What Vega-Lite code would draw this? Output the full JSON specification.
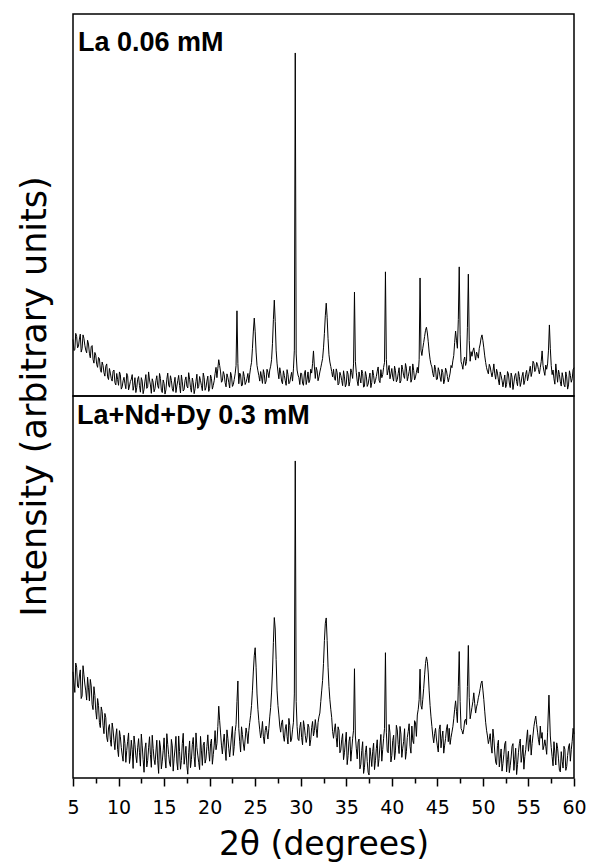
{
"$schema": "https://vega.github.io/schema/vega-lite/v6.json",
"background": "white",
"padding": {"left": 16, "top": 13, "right": 4, "bottom": 0},
"bounds": "flush",
"spacing": 0,
"config": {"view": {"stroke": "black", "strokeWidth": 1.5}, "font": "DejaVu Sans"},
"datasets": {
"top": [
{"x":5.0,"y":14.8},{"x":5.2,"y":12.1},{"x":5.4,"y":15.6},{"x":5.6,"y":13.0},{"x":5.8,"y":16.2},{"x":6.0,"y":12.4},{"x":6.2,"y":15.1},{"x":6.4,"y":12.0},{"x":6.6,"y":14.6},{"x":6.8,"y":11.2},{"x":7.0,"y":12.9},{"x":7.2,"y":9.6},{"x":7.4,"y":11.4},{"x":7.6,"y":8.3},{"x":7.8,"y":10.1},{"x":8.0,"y":7.0},{"x":8.2,"y":8.9},{"x":8.4,"y":6.1},{"x":8.6,"y":7.8},{"x":8.8,"y":5.0},{"x":9.0,"y":7.2},{"x":9.2,"y":4.6},{"x":9.4,"y":6.5},{"x":9.6,"y":3.5},{"x":9.8,"y":5.9},{"x":10.0,"y":2.8},{"x":10.2,"y":5.6},{"x":10.4,"y":2.4},{"x":10.6,"y":4.9},{"x":10.8,"y":1.9},{"x":11.0,"y":5.3},{"x":11.2,"y":2.6},{"x":11.4,"y":4.4},{"x":11.6,"y":1.5},{"x":11.8,"y":4.8},{"x":12.0,"y":2.2},
{"x":12.2,"y":5.1},{"x":12.4,"y":1.0},{"x":12.6,"y":3.9},{"x":12.8,"y":1.8},{"x":13.0,"y":5.6},{"x":13.2,"y":2.4},{"x":13.4,"y":4.2},{"x":13.6,"y":0.7},{"x":13.8,"y":3.6},{"x":14.0,"y":1.9},{"x":14.2,"y":5.3},{"x":14.4,"y":2.0},{"x":14.6,"y":4.6},{"x":14.8,"y":0.9},{"x":15.0,"y":3.3},{"x":15.2,"y":1.6},{"x":15.4,"y":6.0},{"x":15.6,"y":2.3},{"x":15.8,"y":4.1},{"x":16.0,"y":1.2},{"x":16.2,"y":4.9},{"x":16.4,"y":2.6},{"x":16.6,"y":5.4},{"x":16.8,"y":0.8},{"x":17.0,"y":3.7},{"x":17.2,"y":1.7},{"x":17.4,"y":5.0},{"x":17.6,"y":2.1},{"x":17.8,"y":4.4},{"x":18.0,"y":1.0},{"x":18.2,"y":3.5},{"x":18.4,"y":1.9},{"x":18.6,"y":5.7},{"x":18.8,"y":2.5},{"x":19.0,"y":4.0},{"x":19.2,"y":1.4},{"x":19.4,"y":4.8},{"x":19.6,"y":2.2},{"x":19.8,"y":5.2},{"x":20.0,"y":2.0},{"x":20.2,"y":4.6},{"x":20.4,"y":2.8},
{"x":20.6,"y":5.9},{"x":20.8,"y":4.8},{"x":21.0,"y":9.5},{"x":21.2,"y":6.3},{"x":21.4,"y":4.0},{"x":21.6,"y":5.6},{"x":21.8,"y":2.4},{"x":22.0,"y":4.9},{"x":22.2,"y":2.1},{"x":22.4,"y":5.3},{"x":22.6,"y":3.0},{"x":22.8,"y":5.8},{"x":22.9,"y":8.0},{"x":23.0,"y":22.3},{"x":23.1,"y":8.5},{"x":23.2,"y":3.2},{"x":23.4,"y":5.5},{"x":23.6,"y":2.9},{"x":23.8,"y":5.1},{"x":24.0,"y":3.6},{"x":24.2,"y":5.9},
{"x":24.4,"y":5.7},{"x":24.6,"y":8.8},{"x":24.7,"y":12.5},{"x":24.8,"y":17.0},{"x":24.9,"y":20.4},{"x":25.0,"y":16.8},{"x":25.1,"y":11.5},{"x":25.2,"y":8.0},{"x":25.4,"y":5.4},{"x":25.6,"y":6.4},{"x":25.8,"y":3.3},{"x":26.0,"y":5.7},{"x":26.2,"y":3.9},{"x":26.4,"y":6.2},{"x":26.6,"y":6.8},{"x":26.8,"y":9.5},{"x":26.9,"y":13.8},{"x":27.0,"y":20.0},{"x":27.1,"y":25.1},{"x":27.2,"y":19.5},{"x":27.3,"y":12.0},{"x":27.4,"y":8.6},{"x":27.6,"y":4.5},{"x":27.8,"y":6.0},{"x":28.0,"y":3.2},{"x":28.2,"y":5.4},{"x":28.4,"y":2.8},{"x":28.6,"y":5.6},{"x":28.8,"y":3.6},{"x":29.0,"y":6.2},{"x":29.2,"y":7.1},{"x":29.3,"y":12.0},{"x":29.4,"y":89.8},{"x":29.5,"y":11.0},{"x":29.6,"y":6.8},{"x":29.8,"y":4.8},{"x":30.0,"y":6.0},{"x":30.2,"y":3.4},{"x":30.4,"y":5.8},{"x":30.6,"y":3.0},{"x":30.8,"y":6.3},{"x":31.0,"y":4.2},{"x":31.2,"y":6.0},{"x":31.3,"y":8.5},{"x":31.4,"y":11.8},{"x":31.5,"y":7.6},{"x":31.6,"y":4.6},{"x":31.8,"y":6.6},{"x":32.0,"y":5.0},{"x":32.2,"y":7.4},{"x":32.4,"y":9.8},{"x":32.5,"y":12.6},{"x":32.6,"y":16.4},{"x":32.7,"y":21.0},{"x":32.8,"y":24.3},{"x":32.9,"y":20.5},{"x":33.0,"y":15.0},{"x":33.1,"y":10.8},{"x":33.2,"y":8.9},{"x":33.4,"y":6.4},{"x":33.6,"y":7.0},{"x":33.8,"y":4.1},{"x":34.0,"y":6.1},{"x":34.2,"y":3.3},{"x":34.4,"y":5.4},{"x":34.6,"y":2.7},{"x":34.8,"y":5.0},{"x":35.0,"y":3.1},{"x":35.2,"y":5.7},{"x":35.4,"y":3.8},{"x":35.6,"y":6.1},{"x":35.8,"y":8.4},{"x":35.9,"y":27.2},{"x":36.0,"y":9.0},{"x":36.2,"y":3.9},{"x":36.4,"y":6.3},{"x":36.6,"y":3.4},{"x":36.8,"y":5.9},{"x":37.0,"y":2.6},{"x":37.2,"y":5.2},{"x":37.4,"y":3.1},{"x":37.6,"y":6.0},{"x":37.8,"y":3.5},{"x":38.0,"y":5.4},{"x":38.2,"y":4.0},{"x":38.4,"y":6.5},{"x":38.6,"y":4.1},{"x":38.8,"y":6.9},{"x":39.0,"y":5.6},{"x":39.2,"y":8.8},{"x":39.3,"y":32.5},{"x":39.4,"y":9.6},{"x":39.6,"y":6.7},{"x":39.8,"y":4.5},{"x":40.0,"y":7.2},{"x":40.2,"y":3.9},{"x":40.4,"y":6.6},{"x":40.6,"y":4.3},{"x":40.8,"y":7.4},{"x":41.0,"y":4.0},{"x":41.2,"y":6.9},{"x":41.4,"y":4.6},{"x":41.6,"y":7.3},{"x":41.8,"y":5.1},{"x":42.0,"y":7.8},{"x":42.2,"y":4.4},{"x":42.4,"y":6.7},{"x":42.6,"y":5.0},{"x":42.8,"y":7.5},{"x":43.0,"y":9.5},{"x":43.1,"y":30.9},{"x":43.2,"y":12.0},{"x":43.4,"y":12.5},{"x":43.6,"y":15.6},{"x":43.8,"y":18.0},{"x":44.0,"y":14.2},{"x":44.2,"y":9.6},{"x":44.4,"y":7.6},{"x":44.6,"y":5.0},{"x":44.8,"y":7.0},{"x":45.0,"y":4.4},{"x":45.2,"y":6.5},{"x":45.4,"y":3.8},{"x":45.6,"y":6.1},{"x":45.8,"y":4.2},{"x":46.0,"y":6.6},{"x":46.2,"y":3.7},{"x":46.4,"y":6.0},{"x":46.6,"y":7.4},{"x":46.8,"y":10.6},{"x":47.0,"y":17.0},{"x":47.2,"y":12.5},{"x":47.3,"y":20.0},{"x":47.4,"y":33.8},{"x":47.5,"y":16.0},{"x":47.6,"y":9.0},{"x":47.8,"y":7.0},{"x":48.0,"y":10.2},{"x":48.2,"y":9.0},{"x":48.3,"y":18.0},{"x":48.4,"y":31.9},{"x":48.5,"y":14.5},{"x":48.6,"y":9.1},{"x":48.8,"y":10.4},{"x":49.0,"y":12.6},{"x":49.1,"y":11.0},{"x":49.2,"y":9.4},{"x":49.4,"y":10.8},{"x":49.6,"y":12.5},{"x":49.8,"y":15.2},{"x":49.9,"y":16.0},{"x":50.0,"y":14.5},{"x":50.2,"y":10.5},{"x":50.4,"y":7.4},{"x":50.6,"y":5.8},{"x":50.8,"y":7.6},{"x":51.0,"y":5.0},{"x":51.2,"y":8.4},{"x":51.4,"y":4.4},{"x":51.6,"y":6.0},{"x":51.8,"y":2.9},{"x":52.0,"y":5.3},{"x":52.2,"y":2.4},{"x":52.4,"y":5.5},{"x":52.6,"y":3.0},{"x":52.8,"y":5.8},{"x":53.0,"y":2.2},{"x":53.2,"y":4.9},{"x":53.4,"y":3.4},{"x":53.6,"y":5.9},{"x":53.8,"y":2.7},{"x":54.0,"y":5.1},{"x":54.2,"y":3.6},{"x":54.4,"y":6.2},{"x":54.6,"y":4.0},{"x":54.8,"y":6.7},{"x":55.0,"y":5.2},{"x":55.2,"y":7.8},{"x":55.4,"y":6.3},{"x":55.6,"y":8.6},{"x":55.8,"y":7.0},{"x":56.0,"y":8.2},{"x":56.2,"y":5.8},{"x":56.4,"y":9.0},{"x":56.5,"y":11.8},{"x":56.6,"y":8.0},{"x":56.8,"y":5.4},{"x":57.0,"y":7.0},{"x":57.2,"y":12.0},{"x":57.3,"y":18.6},{"x":57.4,"y":12.5},{"x":57.6,"y":5.6},{"x":57.8,"y":4.5},{"x":58.0,"y":8.4},{"x":58.2,"y":3.6},{"x":58.4,"y":5.6},{"x":58.6,"y":2.6},{"x":58.8,"y":4.8},{"x":59.0,"y":2.4},{"x":59.2,"y":5.0},{"x":59.4,"y":2.9},{"x":59.6,"y":5.4},{"x":59.8,"y":4.5},{"x":60.0,"y":7.4},
{"x":5.1,"y":11.9},{"x":5.3,"y":16.4},{"x":5.5,"y":12.6},{"x":5.7,"y":14.9},{"x":5.9,"y":11.5},{"x":6.1,"y":16.0},{"x":6.3,"y":13.3},{"x":6.5,"y":11.3},{"x":6.7,"y":13.6},{"x":6.9,"y":10.0},{"x":7.1,"y":13.2},{"x":7.3,"y":8.6},{"x":7.5,"y":10.7},{"x":7.7,"y":7.5},{"x":7.9,"y":9.8},{"x":8.1,"y":6.2},{"x":8.3,"y":8.0},{"x":8.5,"y":5.2},{"x":8.7,"y":8.4},{"x":8.9,"y":4.3},{"x":9.1,"y":6.0},{"x":9.3,"y":3.9},{"x":9.5,"y":6.8},{"x":9.7,"y":2.9},{"x":9.9,"y":4.3},{"x":10.1,"y":6.3},{"x":10.3,"y":1.8},{"x":10.5,"y":4.0},{"x":10.7,"y":3.2},{"x":10.9,"y":5.9},{"x":11.1,"y":1.6},{"x":11.3,"y":3.8},{"x":11.5,"y":5.6},{"x":11.7,"y":2.7},{"x":11.9,"y":0.9},{"x":12.1,"y":4.4},
{"x":12.3,"y":2.7},{"x":12.5,"y":4.8},{"x":12.7,"y":0.6},{"x":12.9,"y":3.9},{"x":13.1,"y":2.0},{"x":13.3,"y":6.3},{"x":13.5,"y":2.9},{"x":13.7,"y":4.5},{"x":13.9,"y":1.1},{"x":14.1,"y":4.0},{"x":14.3,"y":2.7},{"x":14.5,"y":5.9},{"x":14.7,"y":1.5},{"x":14.9,"y":4.2},{"x":15.1,"y":0.5},{"x":15.3,"y":4.4},{"x":15.5,"y":2.9},{"x":15.7,"y":5.3},{"x":15.9,"y":1.9},{"x":16.1,"y":3.4},{"x":16.3,"y":0.9},{"x":16.5,"y":4.0},{"x":16.7,"y":2.8},{"x":16.9,"y":5.5},{"x":17.1,"y":1.3},{"x":17.3,"y":4.1},{"x":17.5,"y":2.6},{"x":17.7,"y":6.1},{"x":17.9,"y":2.2},{"x":18.1,"y":4.7},{"x":18.3,"y":0.6},{"x":18.5,"y":3.8},{"x":18.7,"y":2.0},{"x":18.9,"y":5.1},{"x":19.1,"y":2.7},{"x":19.3,"y":6.0},{"x":19.5,"y":1.5},{"x":19.7,"y":3.9},{"x":19.9,"y":1.2},{"x":20.1,"y":5.5},{"x":20.3,"y":1.8},{"x":20.5,"y":4.0},
{"x":20.7,"y":7.5},{"x":20.9,"y":7.2},{"x":21.1,"y":8.0},{"x":21.3,"y":3.6},{"x":21.5,"y":6.4},{"x":21.7,"y":3.5},{"x":21.9,"y":5.8},{"x":22.1,"y":3.6},{"x":22.3,"y":6.2},{"x":22.5,"y":2.5},{"x":22.7,"y":4.3},{"x":23.3,"y":6.0},{"x":23.5,"y":2.6},{"x":23.7,"y":6.4},{"x":23.9,"y":3.0},{"x":24.1,"y":4.6},{"x":24.3,"y":3.5},{"x":24.5,"y":7.5},{"x":25.3,"y":6.6},{"x":25.5,"y":3.9},{"x":25.7,"y":5.0},{"x":25.9,"y":6.9},{"x":26.1,"y":3.2},{"x":26.3,"y":7.0},{"x":26.5,"y":4.8},{"x":26.7,"y":7.8},{"x":27.5,"y":6.3},{"x":27.7,"y":7.4},{"x":27.9,"y":3.9},{"x":28.1,"y":6.6},{"x":28.3,"y":4.0},{"x":28.5,"y":6.9},{"x":28.7,"y":3.2},{"x":28.9,"y":5.0},{"x":29.1,"y":3.9},{"x":29.7,"y":5.5},{"x":29.9,"y":3.0},{"x":30.1,"y":5.9},{"x":30.3,"y":2.8},{"x":30.5,"y":6.7},{"x":30.7,"y":4.4},{"x":30.9,"y":3.5},{"x":31.1,"y":7.0},{"x":31.7,"y":7.5},{"x":31.9,"y":4.0},{"x":32.1,"y":6.3},{"x":32.3,"y":8.6},
{"x":33.3,"y":7.7},{"x":33.5,"y":5.0},{"x":33.7,"y":4.6},{"x":33.9,"y":7.1},{"x":34.1,"y":2.9},{"x":34.3,"y":6.2},{"x":34.5,"y":4.1},{"x":34.7,"y":6.6},{"x":34.9,"y":2.4},{"x":35.1,"y":6.5},{"x":35.3,"y":2.6},{"x":35.5,"y":7.1},{"x":35.7,"y":4.6},{"x":36.1,"y":6.2},{"x":36.3,"y":2.7},{"x":36.5,"y":4.8},{"x":36.7,"y":6.8},{"x":36.9,"y":2.3},{"x":37.1,"y":6.4},{"x":37.3,"y":2.5},{"x":37.5,"y":4.6},{"x":37.7,"y":2.2},{"x":37.9,"y":6.8},{"x":38.1,"y":3.2},{"x":38.3,"y":5.1},{"x":38.5,"y":7.6},{"x":38.7,"y":3.5},{"x":38.9,"y":4.8},{"x":39.1,"y":7.5},
{"x":39.5,"y":5.5},{"x":39.7,"y":8.0},{"x":39.9,"y":5.8},{"x":40.1,"y":4.9},{"x":40.3,"y":7.8},{"x":40.5,"y":3.7},{"x":40.7,"y":5.9},{"x":40.9,"y":3.4},{"x":41.1,"y":8.1},{"x":41.3,"y":5.3},{"x":41.5,"y":8.5},{"x":41.7,"y":4.0},{"x":41.9,"y":6.4},{"x":42.1,"y":3.6},{"x":42.3,"y":8.4},{"x":42.5,"y":4.2},{"x":42.7,"y":6.2},{"x":42.9,"y":6.0},{"x":43.3,"y":10.6},{"x":43.5,"y":14.0},{"x":43.7,"y":17.2},{"x":43.9,"y":16.5},{"x":44.1,"y":11.5},{"x":44.3,"y":8.3},{"x":44.5,"y":5.9},{"x":44.7,"y":8.1},{"x":44.9,"y":4.3},{"x":45.1,"y":7.4},{"x":45.3,"y":5.0},{"x":45.5,"y":7.0},{"x":45.7,"y":3.2},{"x":45.9,"y":7.3},{"x":46.1,"y":5.1},{"x":46.3,"y":4.8},{"x":46.5,"y":8.0},{"x":46.7,"y":9.2},{"x":46.9,"y":14.0},{"x":47.1,"y":14.6},
{"x":47.7,"y":8.2},{"x":47.9,"y":9.3},{"x":48.1,"y":8.0},{"x":48.7,"y":11.6},{"x":48.9,"y":11.8},{"x":49.3,"y":11.5},{"x":49.5,"y":9.9},{"x":49.7,"y":13.6},{"x":50.1,"y":12.6},{"x":50.3,"y":8.8},{"x":50.5,"y":6.5},{"x":50.7,"y":8.3},{"x":50.9,"y":6.2},{"x":51.1,"y":6.4},{"x":51.3,"y":5.8},{"x":51.5,"y":7.0},{"x":51.7,"y":4.2},{"x":51.9,"y":6.3},{"x":52.1,"y":4.1},{"x":52.3,"y":3.9},{"x":52.5,"y":2.2},{"x":52.7,"y":6.4},{"x":52.9,"y":3.4},{"x":53.1,"y":6.0},{"x":53.3,"y":1.7},{"x":53.5,"y":5.3},{"x":53.7,"y":3.8},{"x":53.9,"y":6.4},{"x":54.1,"y":2.5},{"x":54.3,"y":5.2},{"x":54.5,"y":3.0},{"x":54.7,"y":5.7},{"x":54.9,"y":4.0},{"x":55.1,"y":6.5},{"x":55.3,"y":5.1},{"x":55.5,"y":9.1},{"x":55.7,"y":6.4},{"x":55.9,"y":8.8},{"x":56.1,"y":6.9},{"x":56.3,"y":7.4},{"x":56.7,"y":6.5},{"x":56.9,"y":8.1},{"x":57.1,"y":8.4},{"x":57.5,"y":8.0},{"x":57.7,"y":6.8},{"x":57.9,"y":3.1},{"x":58.1,"y":6.0},{"x":58.3,"y":6.8},{"x":58.5,"y":3.7},{"x":58.7,"y":6.1},{"x":58.9,"y":3.0},{"x":59.1,"y":6.3},{"x":59.3,"y":1.8},{"x":59.5,"y":6.6},{"x":59.7,"y":3.6},{"x":59.9,"y":6.9}
],
"bottom": [
{"x":5.0,"y":27.8},{"x":5.2,"y":22.4},{"x":5.4,"y":29.0},{"x":5.6,"y":23.6},{"x":5.8,"y":28.3},{"x":6.0,"y":21.5},{"x":6.2,"y":27.0},{"x":6.4,"y":22.8},{"x":6.6,"y":26.4},{"x":6.8,"y":20.2},{"x":7.0,"y":24.1},{"x":7.2,"y":17.9},{"x":7.4,"y":21.6},{"x":7.6,"y":15.4},{"x":7.8,"y":19.0},{"x":8.0,"y":13.2},{"x":8.2,"y":17.4},{"x":8.4,"y":11.6},{"x":8.6,"y":15.8},{"x":8.8,"y":9.5},{"x":9.0,"y":14.0},{"x":9.2,"y":8.3},{"x":9.4,"y":12.6},{"x":9.6,"y":7.4},{"x":9.8,"y":12.9},{"x":10.0,"y":5.6},{"x":10.2,"y":10.8},{"x":10.4,"y":6.0},{"x":10.6,"y":11.2},{"x":10.8,"y":4.1},{"x":11.0,"y":9.6},{"x":11.2,"y":3.8},{"x":11.4,"y":9.9},{"x":11.6,"y":2.5},{"x":11.8,"y":8.7},{"x":12.0,"y":4.0},{"x":12.2,"y":10.3},{"x":12.4,"y":3.1},{"x":12.6,"y":8.4},{"x":12.8,"y":1.5},{"x":13.0,"y":9.2},{"x":13.2,"y":4.6},{"x":13.4,"y":10.8},{"x":13.6,"y":2.8},{"x":13.8,"y":7.7},{"x":14.0,"y":3.5},{"x":14.2,"y":9.9},{"x":14.4,"y":1.2},{"x":14.6,"y":8.1},{"x":14.8,"y":4.4},{"x":15.0,"y":10.5},{"x":15.2,"y":2.6},{"x":15.4,"y":8.8},{"x":15.6,"y":3.9},{"x":15.8,"y":10.1},{"x":16.0,"y":1.8},{"x":16.2,"y":7.6},{"x":16.4,"y":4.2},{"x":16.6,"y":11.0},{"x":16.8,"y":2.3},{"x":17.0,"y":9.0},{"x":17.2,"y":3.6},{"x":17.4,"y":8.3},{"x":17.6,"y":1.0},{"x":17.8,"y":9.7},{"x":18.0,"y":4.8},{"x":18.2,"y":10.6},{"x":18.4,"y":2.9},{"x":18.6,"y":8.0},{"x":18.8,"y":4.1},{"x":19.0,"y":10.9},{"x":19.2,"y":3.3},{"x":19.4,"y":9.4},{"x":19.6,"y":5.0},{"x":19.8,"y":11.3},{"x":20.0,"y":4.4},{"x":20.2,"y":10.2},{"x":20.4,"y":6.1},{"x":20.6,"y":12.4},{"x":20.8,"y":9.0},{"x":21.0,"y":18.8},{"x":21.2,"y":11.8},{"x":21.4,"y":6.3},{"x":21.6,"y":11.5},{"x":21.8,"y":4.6},{"x":22.0,"y":10.4},{"x":22.2,"y":5.5},{"x":22.4,"y":11.0},{"x":22.6,"y":5.9},{"x":22.8,"y":12.2},{"x":22.9,"y":14.0},{"x":23.0,"y":20.0},{"x":23.1,"y":25.4},{"x":23.2,"y":13.0},{"x":23.4,"y":6.8},{"x":23.6,"y":11.4},{"x":23.8,"y":7.2},{"x":24.0,"y":13.1},{"x":24.2,"y":9.0},{"x":24.4,"y":14.5},{"x":24.6,"y":19.0},{"x":24.8,"y":28.0},{"x":24.9,"y":32.0},{"x":25.0,"y":34.1},{"x":25.1,"y":29.0},{"x":25.2,"y":22.0},{"x":25.4,"y":15.0},{"x":25.6,"y":10.5},{"x":25.8,"y":14.8},{"x":26.0,"y":9.0},{"x":26.2,"y":13.6},{"x":26.4,"y":10.2},{"x":26.6,"y":16.0},{"x":26.8,"y":22.5},{"x":26.9,"y":28.0},{"x":27.0,"y":35.5},{"x":27.1,"y":42.0},{"x":27.2,"y":39.0},{"x":27.3,"y":31.0},{"x":27.4,"y":23.0},{"x":27.6,"y":16.5},{"x":27.8,"y":12.0},{"x":28.0,"y":15.2},{"x":28.2,"y":9.6},{"x":28.4,"y":14.0},{"x":28.6,"y":8.9},{"x":28.8,"y":13.8},{"x":29.0,"y":10.2},{"x":29.2,"y":14.6},{"x":29.3,"y":22.0},{"x":29.4,"y":83.0},{"x":29.5,"y":20.0},{"x":29.6,"y":13.5},{"x":29.8,"y":9.8},{"x":30.0,"y":14.6},{"x":30.2,"y":8.7},{"x":30.4,"y":13.4},{"x":30.6,"y":9.3},{"x":30.8,"y":14.1},{"x":31.0,"y":8.4},{"x":31.2,"y":13.2},{"x":31.4,"y":11.0},{"x":31.6,"y":15.3},{"x":31.8,"y":10.6},{"x":32.0,"y":16.0},{"x":32.2,"y":20.0},{"x":32.4,"y":25.5},{"x":32.5,"y":30.0},{"x":32.6,"y":36.0},{"x":32.7,"y":40.5},{"x":32.8,"y":41.9},{"x":32.9,"y":36.0},{"x":33.0,"y":29.0},{"x":33.2,"y":20.5},{"x":33.4,"y":15.8},{"x":33.6,"y":10.4},{"x":33.8,"y":14.2},{"x":34.0,"y":8.1},{"x":34.2,"y":12.5},{"x":34.4,"y":7.3},{"x":34.6,"y":11.6},{"x":34.8,"y":6.6},{"x":35.0,"y":12.0},{"x":35.2,"y":5.9},{"x":35.4,"y":10.8},{"x":35.6,"y":7.4},{"x":35.8,"y":12.5},{"x":35.9,"y":28.6},{"x":36.0,"y":11.0},{"x":36.2,"y":5.0},{"x":36.4,"y":10.2},{"x":36.6,"y":3.6},{"x":36.8,"y":9.5},{"x":37.0,"y":2.8},{"x":37.2,"y":8.4},{"x":37.4,"y":1.5},{"x":37.6,"y":7.9},{"x":37.8,"y":3.0},{"x":38.0,"y":9.1},{"x":38.2,"y":4.5},{"x":38.4,"y":10.0},{"x":38.6,"y":5.1},{"x":38.8,"y":11.4},{"x":39.0,"y":7.5},{"x":39.2,"y":13.0},{"x":39.3,"y":32.8},{"x":39.4,"y":12.0},{"x":39.6,"y":6.6},{"x":39.8,"y":11.8},{"x":40.0,"y":5.9},{"x":40.2,"y":11.2},{"x":40.4,"y":7.1},{"x":40.6,"y":12.6},{"x":40.8,"y":6.4},{"x":41.0,"y":11.5},{"x":41.2,"y":7.8},{"x":41.4,"y":12.9},{"x":41.6,"y":6.9},{"x":41.8,"y":12.2},{"x":42.0,"y":8.3},{"x":42.2,"y":13.6},{"x":42.4,"y":9.0},{"x":42.6,"y":14.4},{"x":42.8,"y":16.5},{"x":43.0,"y":20.5},{"x":43.1,"y":28.5},{"x":43.2,"y":19.0},{"x":43.4,"y":20.6},{"x":43.6,"y":27.0},{"x":43.8,"y":31.7},{"x":44.0,"y":27.5},{"x":44.2,"y":19.0},{"x":44.4,"y":13.5},{"x":44.6,"y":9.2},{"x":44.8,"y":13.0},{"x":45.0,"y":8.4},{"x":45.2,"y":12.7},{"x":45.4,"y":7.9},{"x":45.6,"y":12.3},{"x":45.8,"y":8.6},{"x":46.0,"y":12.8},{"x":46.2,"y":9.5},{"x":46.3,"y":13.0},{"x":46.4,"y":8.8},{"x":46.6,"y":12.0},{"x":46.8,"y":15.5},{"x":47.0,"y":20.2},{"x":47.2,"y":14.5},{"x":47.3,"y":24.0},{"x":47.4,"y":33.1},{"x":47.5,"y":20.0},{"x":47.6,"y":13.0},{"x":47.8,"y":11.5},{"x":48.0,"y":15.0},{"x":48.2,"y":14.0},{"x":48.3,"y":24.0},{"x":48.4,"y":34.7},{"x":48.5,"y":21.0},{"x":48.6,"y":15.5},{"x":48.8,"y":18.5},{"x":49.0,"y":22.3},{"x":49.2,"y":17.0},{"x":49.4,"y":19.5},{"x":49.6,"y":22.0},{"x":49.8,"y":24.8},{"x":49.9,"y":25.4},{"x":50.0,"y":23.0},{"x":50.2,"y":17.5},{"x":50.4,"y":12.5},{"x":50.6,"y":9.0},{"x":50.8,"y":11.6},{"x":51.0,"y":6.5},{"x":51.2,"y":10.4},{"x":51.4,"y":4.2},{"x":51.6,"y":8.5},{"x":51.8,"y":2.9},{"x":52.0,"y":7.6},{"x":52.2,"y":3.8},{"x":52.4,"y":8.9},{"x":52.6,"y":1.6},{"x":52.8,"y":7.0},{"x":53.0,"y":3.2},{"x":53.2,"y":8.3},{"x":53.4,"y":2.0},{"x":53.6,"y":7.8},{"x":53.8,"y":3.5},{"x":54.0,"y":9.0},{"x":54.2,"y":4.1},{"x":54.4,"y":8.6},{"x":54.6,"y":5.6},{"x":54.8,"y":10.2},{"x":55.0,"y":7.0},{"x":55.2,"y":11.3},{"x":55.4,"y":9.0},{"x":55.6,"y":13.5},{"x":55.8,"y":16.2},{"x":56.0,"y":12.0},{"x":56.2,"y":8.6},{"x":56.4,"y":10.4},{"x":56.5,"y":11.9},{"x":56.6,"y":7.4},{"x":56.8,"y":10.0},{"x":57.0,"y":6.2},{"x":57.1,"y":12.0},{"x":57.25,"y":21.7},{"x":57.4,"y":11.0},{"x":57.6,"y":5.6},{"x":57.8,"y":9.5},{"x":58.0,"y":3.4},{"x":58.2,"y":7.8},{"x":58.4,"y":2.0},{"x":58.6,"y":6.9},{"x":58.8,"y":2.6},{"x":59.0,"y":7.5},{"x":59.2,"y":3.0},{"x":59.4,"y":8.1},{"x":59.6,"y":4.4},{"x":59.8,"y":9.6},{"x":60.0,"y":11.5},
{"x":5.1,"y":24.9},{"x":5.3,"y":30.1},{"x":5.5,"y":24.0},{"x":5.7,"y":26.7},{"x":5.9,"y":20.8},{"x":6.1,"y":29.4},{"x":6.3,"y":24.6},{"x":6.5,"y":20.4},{"x":6.7,"y":23.6},{"x":6.9,"y":25.8},{"x":7.1,"y":19.2},{"x":7.3,"y":23.9},{"x":7.5,"y":17.6},{"x":7.7,"y":20.8},{"x":7.9,"y":14.5},{"x":8.1,"y":18.6},{"x":8.3,"y":13.8},{"x":8.5,"y":16.9},{"x":8.7,"y":10.7},{"x":8.9,"y":13.1},{"x":9.1,"y":10.0},{"x":9.3,"y":14.4},{"x":9.5,"y":9.8},{"x":9.7,"y":11.0},{"x":9.9,"y":7.5},{"x":10.1,"y":12.4},{"x":10.3,"y":8.0},{"x":10.5,"y":4.4},{"x":10.7,"y":9.0},{"x":10.9,"y":7.2},{"x":11.1,"y":11.8},{"x":11.3,"y":5.7},{"x":11.5,"y":7.4},{"x":11.7,"y":11.0},{"x":11.9,"y":5.8},{"x":12.1,"y":7.9},
{"x":12.3,"y":6.6},{"x":12.5,"y":11.5},{"x":12.7,"y":4.8},{"x":12.9,"y":7.6},{"x":13.1,"y":2.9},{"x":13.3,"y":7.9},{"x":13.5,"y":6.1},{"x":13.7,"y":11.2},{"x":13.9,"y":4.9},{"x":14.1,"y":6.8},{"x":14.3,"y":4.5},{"x":14.5,"y":9.8},{"x":14.7,"y":2.4},{"x":14.9,"y":7.2},{"x":15.1,"y":5.3},{"x":15.3,"y":11.6},{"x":15.5,"y":6.1},{"x":15.7,"y":3.0},{"x":15.9,"y":8.4},{"x":16.1,"y":5.2},{"x":16.3,"y":10.9},{"x":16.5,"y":2.1},{"x":16.7,"y":6.9},{"x":16.9,"y":4.6},{"x":17.1,"y":11.7},{"x":17.3,"y":5.8},{"x":17.5,"y":3.2},{"x":17.7,"y":6.6},{"x":17.9,"y":2.7},{"x":18.1,"y":8.8},{"x":18.3,"y":5.6},{"x":18.5,"y":11.8},{"x":18.7,"y":6.0},{"x":18.9,"y":2.2},{"x":19.1,"y":7.1},{"x":19.3,"y":8.6},{"x":19.5,"y":3.9},{"x":19.7,"y":8.2},{"x":19.9,"y":7.0},{"x":20.1,"y":9.0},{"x":20.3,"y":3.6},{"x":20.5,"y":8.6},
{"x":20.7,"y":7.4},{"x":20.9,"y":13.5},{"x":21.1,"y":15.0},{"x":21.3,"y":8.6},{"x":21.5,"y":9.4},{"x":21.7,"y":7.6},{"x":21.9,"y":12.6},{"x":22.1,"y":7.8},{"x":22.3,"y":8.1},{"x":22.5,"y":13.5},{"x":22.7,"y":8.3},{"x":23.3,"y":9.6},{"x":23.5,"y":13.4},{"x":23.7,"y":8.9},{"x":23.9,"y":10.2},{"x":24.1,"y":11.6},{"x":24.3,"y":12.4},{"x":24.5,"y":16.4},{"x":24.7,"y":23.0},{"x":25.3,"y":18.0},{"x":25.5,"y":12.6},{"x":25.7,"y":12.0},{"x":25.9,"y":10.8},{"x":26.1,"y":12.4},{"x":26.3,"y":11.9},{"x":26.5,"y":13.0},{"x":26.7,"y":18.5},{"x":27.5,"y":19.0},{"x":27.7,"y":13.6},{"x":27.9,"y":14.5},{"x":28.1,"y":11.0},{"x":28.3,"y":12.8},{"x":28.5,"y":10.9},{"x":28.7,"y":15.6},{"x":28.9,"y":9.5},{"x":29.1,"y":12.6},
{"x":29.7,"y":10.2},{"x":29.9,"y":13.2},{"x":30.1,"y":10.6},{"x":30.3,"y":15.0},{"x":30.5,"y":11.1},{"x":30.7,"y":10.7},{"x":30.9,"y":13.3},{"x":31.1,"y":10.0},{"x":31.3,"y":14.8},{"x":31.5,"y":12.4},{"x":31.7,"y":13.0},{"x":31.9,"y":14.5},{"x":32.1,"y":17.0},{"x":32.3,"y":22.8},{"x":33.1,"y":24.0},{"x":33.3,"y":18.0},{"x":33.5,"y":12.2},{"x":33.7,"y":12.6},{"x":33.9,"y":10.6},{"x":34.1,"y":13.4},{"x":34.3,"y":6.6},{"x":34.5,"y":10.0},{"x":34.7,"y":4.8},{"x":34.9,"y":9.4},{"x":35.1,"y":3.5},{"x":35.3,"y":9.6},{"x":35.5,"y":4.4},{"x":35.7,"y":10.4},
{"x":36.1,"y":7.8},{"x":36.3,"y":9.4},{"x":36.5,"y":2.4},{"x":36.7,"y":7.2},{"x":36.9,"y":1.2},{"x":37.1,"y":6.6},{"x":37.3,"y":4.3},{"x":37.5,"y":0.8},{"x":37.7,"y":5.7},{"x":37.9,"y":7.0},{"x":38.1,"y":2.2},{"x":38.3,"y":7.7},{"x":38.5,"y":3.0},{"x":38.7,"y":8.6},{"x":38.9,"y":4.4},{"x":39.1,"y":10.4},{"x":39.5,"y":7.0},{"x":39.7,"y":14.0},{"x":39.9,"y":4.2},{"x":40.1,"y":9.8},{"x":40.3,"y":4.8},{"x":40.5,"y":13.8},{"x":40.7,"y":8.8},{"x":40.9,"y":13.5},{"x":41.1,"y":5.4},{"x":41.3,"y":9.6},{"x":41.5,"y":4.9},{"x":41.7,"y":10.6},{"x":41.9,"y":14.2},{"x":42.1,"y":6.5},{"x":42.3,"y":9.8},{"x":42.5,"y":15.0},{"x":42.7,"y":10.9},{"x":42.9,"y":18.0},
{"x":43.3,"y":18.0},{"x":43.5,"y":23.5},{"x":43.7,"y":30.0},{"x":43.9,"y":30.5},{"x":44.1,"y":22.8},{"x":44.3,"y":16.0},{"x":44.5,"y":11.0},{"x":44.7,"y":11.6},{"x":44.9,"y":10.2},{"x":45.1,"y":6.8},{"x":45.3,"y":13.9},{"x":45.5,"y":10.4},{"x":45.7,"y":6.5},{"x":45.9,"y":10.3},{"x":46.1,"y":14.0},{"x":46.5,"y":10.6},{"x":46.7,"y":13.4},{"x":46.9,"y":18.0},{"x":47.1,"y":17.4},{"x":47.7,"y":12.4},{"x":47.9,"y":12.8},{"x":48.1,"y":15.4},{"x":48.7,"y":17.0},{"x":48.9,"y":20.0},{"x":49.1,"y":19.5},{"x":49.3,"y":18.6},{"x":49.5,"y":21.0},{"x":49.7,"y":23.4},
{"x":50.1,"y":20.5},{"x":50.3,"y":14.6},{"x":50.5,"y":11.0},{"x":50.7,"y":10.1},{"x":50.9,"y":8.4},{"x":51.1,"y":12.8},{"x":51.3,"y":6.8},{"x":51.5,"y":3.5},{"x":51.7,"y":9.9},{"x":51.9,"y":5.2},{"x":52.1,"y":1.8},{"x":52.3,"y":6.2},{"x":52.5,"y":9.6},{"x":52.7,"y":4.8},{"x":52.9,"y":1.4},{"x":53.1,"y":5.5},{"x":53.3,"y":9.0},{"x":53.5,"y":4.9},{"x":53.7,"y":0.9},{"x":53.9,"y":6.6},{"x":54.1,"y":10.2},{"x":54.3,"y":6.0},{"x":54.5,"y":2.3},{"x":54.7,"y":7.4},{"x":54.9,"y":12.6},{"x":55.1,"y":9.4},{"x":55.3,"y":6.0},{"x":55.5,"y":11.2},{"x":55.7,"y":15.0},{"x":55.9,"y":14.0},{"x":56.1,"y":10.0},{"x":56.3,"y":13.6},{"x":56.7,"y":8.4},{"x":56.9,"y":8.3},{"x":57.5,"y":8.0},{"x":57.7,"y":3.2},{"x":57.9,"y":6.5},{"x":58.1,"y":9.2},{"x":58.3,"y":5.0},{"x":58.5,"y":1.6},{"x":58.7,"y":4.4},{"x":58.9,"y":8.3},{"x":59.1,"y":2.0},{"x":59.3,"y":5.9},{"x":59.5,"y":9.0},{"x":59.7,"y":7.4},{"x":59.9,"y":13.0}
]
},
"vconcat": [
{
"width": 501, "height": 382,
"layer": [
{"data": {"name": "top"},
 "mark": {"type": "line", "color": "black", "strokeWidth": 1},
 "encoding": {
  "x": {"field": "x", "type": "quantitative", "scale": {"domain": [5, 60], "nice": false, "zero": false}, "axis": null},
  "y": {"field": "y", "type": "quantitative", "scale": {"domain": [0, 100], "nice": false}, "axis": {"title": "Intensity (arbitrary units)", "labels": false, "ticks": false, "domain": false, "grid": false, "titleFont": "DejaVu Sans", "titleFontSize": 35, "titleFontWeight": "normal", "titleColor": "black", "titleY": 382, "titlePadding": 21}}
 }},
{"data": {"values": [{"label": "La 0.06 mM"}]},
 "mark": {"type": "text", "align": "left", "baseline": "alphabetic", "font": "Liberation Sans", "fontWeight": "bold", "fontSize": 27, "color": "black"},
 "encoding": {
  "text": {"field": "label"},
  "x": {"datum": 5.55, "axis": null},
  "y": {"datum": 90.3, "axis": {"title": "Intensity (arbitrary units)", "labels": false, "ticks": false, "domain": false, "grid": false, "titleFont": "DejaVu Sans", "titleFontSize": 35, "titleFontWeight": "normal", "titleColor": "black", "titleY": 382, "titlePadding": 21}}
 }}
]
},
{
"width": 501, "height": 382,
"resolve": {"axis": {"x": "independent"}},
"layer": [
{"data": {"name": "bottom"},
 "mark": {"type": "line", "color": "black", "strokeWidth": 1},
 "encoding": {
  "x": {"field": "x", "type": "quantitative", "scale": {"domain": [5, 60], "nice": false, "zero": false}, "axis": {"values": [5,10,15,20,25,30,35,40,45,50,55,60], "orient": "bottom", "title": "2θ (degrees)", "domain": false, "grid": false, "tickSize": 8, "tickWidth": 1.5, "tickColor": "black", "labelFont": "DejaVu Sans", "labelFontSize": 19, "labelColor": "black", "labelPadding": 12, "labelFlush": false, "titleFont": "DejaVu Sans", "titleFontSize": 33, "titleFontWeight": "normal", "titleColor": "black", "titlePadding": 11}},
  "y": {"field": "y", "type": "quantitative", "scale": {"domain": [0, 100], "nice": false}, "axis": null}
 }},
{"data": {"values": [{"label": "La+Nd+Dy 0.3 mM"}]},
 "mark": {"type": "text", "align": "left", "baseline": "alphabetic", "font": "Liberation Sans", "fontWeight": "bold", "fontSize": 27, "color": "black"},
 "encoding": {
  "text": {"field": "label"},
  "x": {"datum": 5.45, "axis": {"values": [7.5,12.5,17.5,22.5,27.5,32.5,37.5,42.5,47.5,52.5,57.5], "orient": "bottom", "title": null, "labels": false, "domain": false, "grid": false, "tickSize": 5, "tickWidth": 1.5, "tickColor": "black"}},
  "y": {"datum": 92.7, "axis": null}
 }}
]
}
]
}
